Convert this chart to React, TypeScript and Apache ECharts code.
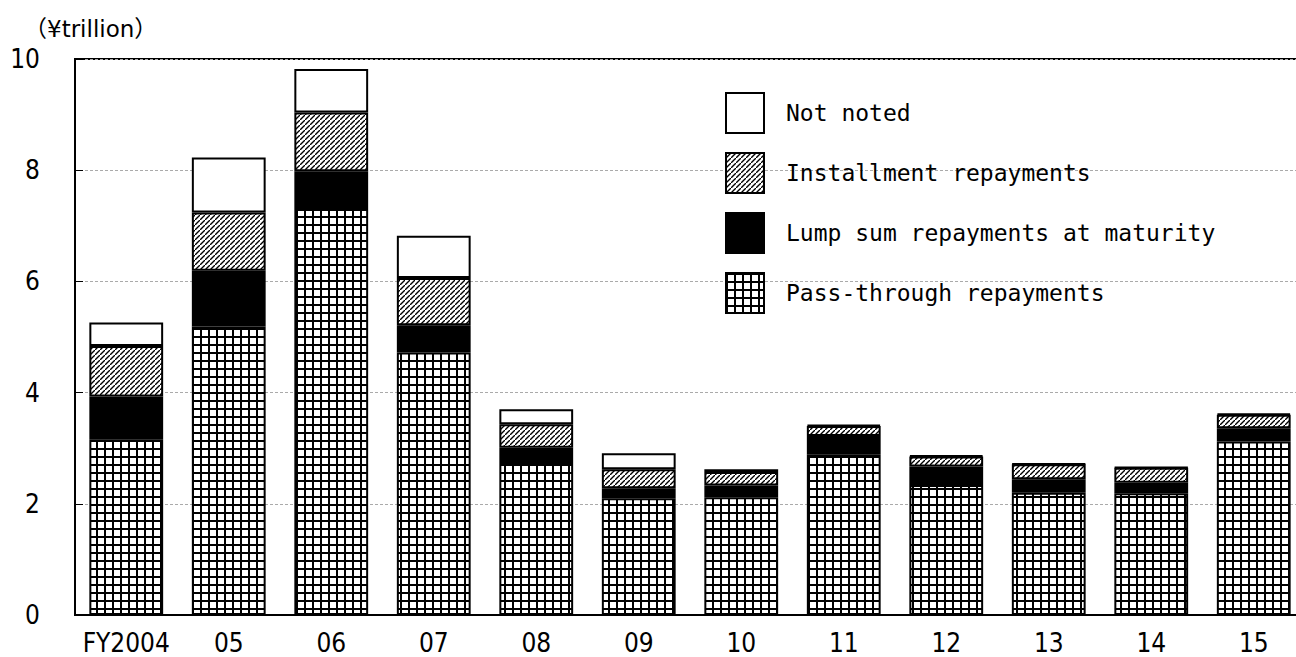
import React, { useEffect, useRef } from "react";
import * as echarts from "echarts";

// Fiscal years on the category axis
const years = ["FY2004", "05", "06", "07", "08", "09", "10", "11", "12", "13", "14", "15"];

// Repayment methods, in ¥ trillion (stacked bottom to top)
const passThrough = [3.16, 5.19, 7.3, 4.72, 2.75, 2.1, 2.12, 2.88, 2.34, 2.2, 2.19, 3.12];
const lumpSum = [0.77, 1.0, 0.68, 0.49, 0.26, 0.18, 0.21, 0.34, 0.33, 0.24, 0.19, 0.24];
const installment = [0.91, 1.05, 1.06, 0.85, 0.42, 0.34, 0.24, 0.18, 0.18, 0.27, 0.27, 0.24];
const notNoted = [0.42, 0.99, 0.78, 0.76, 0.27, 0.29, 0.05, 0.02, 0.02, 0.01, 0.01, 0.02];

const seriesNames = [
  "Pass-through repayments",
  "Lump sum repayments at maturity",
  "Installment repayments",
  "Not noted",
];
const legendOrder = [
  "Not noted",
  "Installment repayments",
  "Lump sum repayments at maturity",
  "Pass-through repayments",
];

const yTicks = { min: 0, max: 10, interval: 2 };

// Square cross-hatch for pass-through repayments
function gridPattern() {
  const s = 8;
  const c = document.createElement("canvas");
  c.width = s;
  c.height = s;
  const g = c.getContext("2d")!;
  g.fillStyle = "#fff";
  g.fillRect(0, 0, s, s);
  g.fillStyle = "#000";
  g.fillRect(0, 0, s, 2);
  g.fillRect(0, 0, 2, s);
  return { image: c, repeat: "repeat", imageWidth: s, imageHeight: s } as any;
}

// Forward-slash hatch for installment repayments
function hatchPattern() {
  const s = 5;
  const c = document.createElement("canvas");
  c.width = s;
  c.height = s;
  const g = c.getContext("2d")!;
  g.fillStyle = "#fff";
  g.fillRect(0, 0, s, s);
  g.strokeStyle = "#000";
  g.lineWidth = 1.4;
  g.beginPath();
  g.moveTo(-1, s + 1);
  g.lineTo(s + 1, -1);
  g.moveTo(-2, 1);
  g.lineTo(1, -2);
  g.moveTo(s - 1, s + 2);
  g.lineTo(s + 2, s - 1);
  g.stroke();
  return { image: c, repeat: "repeat", imageWidth: s, imageHeight: s } as any;
}

const tickFont = "'Liberation Sans Narrow', 'DejaVu Sans Condensed', 'Liberation Sans', sans-serif";

export default function App() {
  const ref = useRef<HTMLDivElement>(null);

  useEffect(() => {
    document.body.style.margin = "0";
    const chart = echarts.init(ref.current!, null, { renderer: "svg" });
    const fills = [gridPattern(), "#000", hatchPattern(), "#fff"];
    const values = [passThrough, lumpSum, installment, notNoted];

    chart.setOption({
      animation: false,
      backgroundColor: "#fff",
      grid: {
        left: 75,
        top: 59,
        right: 5,
        bottom: 42,
        outerBoundsMode: "none",
        show: true,
        borderColor: "#000",
        borderWidth: 2,
        backgroundColor: "transparent",
      },
      graphic: [
        {
          type: "text",
          left: 24,
          top: 17,
          style: {
            text: "（¥trillion）",
            fontSize: 23,
            fontFamily: "'DejaVu Sans', 'Noto Sans CJK JP', sans-serif",
            fill: "#000",
          },
        },
      ],
      legend: {
        data: legendOrder,
        orient: "vertical",
        left: 725,
        top: 92,
        padding: 0,
        itemWidth: 38,
        itemHeight: 40,
        itemGap: 18,
        icon: "rect",
        selectedMode: false,
        textStyle: {
          fontFamily: "'DejaVu Sans Mono', monospace",
          fontSize: 23,
          color: "#000",
          padding: [0, 0, 0, 17],
        },
      },
      xAxis: {
        type: "category",
        data: years,
        axisLine: { lineStyle: { color: "#000", width: 2 } },
        axisTick: { inside: true, length: 8, interval: 0, lineStyle: { color: "#777", width: 1 } },
        axisLabel: {
          color: "#000",
          fontSize: 26,
          fontFamily: tickFont,
          margin: 15,
          interval: 0,
        },
        splitLine: { show: false },
      },
      yAxis: {
        type: "value",
        min: yTicks.min,
        max: yTicks.max,
        interval: yTicks.interval,
        axisLine: { show: true, lineStyle: { color: "#000", width: 2 } },
        axisTick: { show: true, inside: true, length: 8, lineStyle: { color: "#000", width: 1 } },
        axisLabel: {
          color: "#000",
          fontSize: 26,
          fontFamily: tickFont,
          margin: 35,
        },
        splitLine: { show: true, lineStyle: { color: "#aaa", width: 1, type: [3, 2] } },
      },
      series: seriesNames.map((name, i) => ({
        name,
        type: "bar",
        stack: "total",
        barCategoryGap: "28%",
        data: values[i],
        itemStyle: { color: fills[i], borderColor: "#000", borderWidth: 2 },
        emphasis: { disabled: true },
      })),
    });

    return () => chart.dispose();
  }, []);

  return (
    <div style={{ width: 1296, height: 657, overflow: "hidden", position: "relative" }}>
      <div ref={ref} style={{ width: 1310, height: 657 }} />
    </div>
  );
}
